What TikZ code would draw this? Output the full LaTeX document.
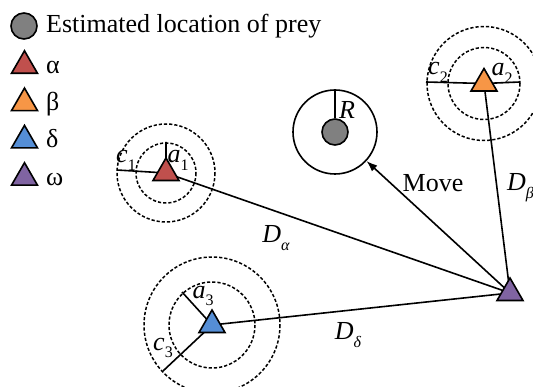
\documentclass[tikz,border=0pt]{standalone}
\usepackage{fontspec}
\setmainfont{Liberation Serif}
\usetikzlibrary{shapes.geometric,arrows.meta}
\definecolor{wolfred}{RGB}{192,80,77}
\definecolor{wolforange}{RGB}{247,150,70}
\definecolor{wolfblue}{RGB}{85,142,213}
\definecolor{wolfpurple}{RGB}{128,100,162}
\newcommand{\lbl}[2]{\textit{#1}\raisebox{-0.3em}{\fontsize{16}{16}\selectfont #2}}

\begin{document}
\begin{tikzpicture}[x=1pt,y=-1pt,font=\fontsize{26}{30}\selectfont,
  wolf/.style={regular polygon,regular polygon sides=3,draw,line width=1.6pt,minimum size=30pt,inner sep=0pt},
  preydot/.style={circle,draw,fill=gray,line width=1.6pt,minimum size=26pt,inner sep=0pt},
  ring/.style={draw,dash pattern=on 3.2pt off 2pt,line width=1.5pt},
  link/.style={line width=1.6pt},
  txt/.style={inner sep=0pt}]
  \useasboundingbox (0,0) rectangle (533,387);
  \clip (0,0) rectangle (533,387);
  \node[preydot] (legprey) at (24,26) {};
  \node[txt,anchor=base west] (legpreytxt) at (46,33) {Estimated location of prey};
  \foreach \g/\c [count=\i] in {α/wolfred,β/wolforange,δ/wolfblue,ω/wolfpurple} {
    \node[wolf,fill=\c] (leg\i) at (24.5,{36+37.3*\i-7.5}) {};
    \node[txt,anchor=base west] (legtxt\i) at (46,{36+37.3*\i}) {\g};
  }
  \coordinate (alpha) at (166,173);
  \coordinate (beta) at (484,83.5);
  \coordinate (delta) at (212,325);
  \coordinate (omega) at (510,293);
  \coordinate (a1) at (166,142);
  \coordinate (c1) at (117,170);
  \coordinate (a2) at (520,82);
  \coordinate (c2) at (426,82);
  \coordinate (a3) at (182,292);
  \coordinate (c3) at (163,371);
  \draw[ring] (alpha) circle (30) (alpha) circle (49);
  \draw[ring] (beta) circle (36) (beta) circle (57);
  \draw[ring] (delta) circle (43) (delta) circle (68);
  \node[preydot] (prey) at (335,132) {};
  \node[circle,draw,line width=1.6pt,minimum size=84pt] (preyzone) at (prey) {};
  \draw[link] (preyzone.north) -- (prey);
  \draw[link] (alpha) -- (omega) (beta) -- (omega) (delta) -- (omega);
  \draw[link] (alpha) -- (a1) (alpha) -- (c1) (beta) -- (a2) (beta) -- (c2) (delta) -- (a3) (delta) -- (c3);
  \draw[link,-{Latex[length=11pt,width=8pt]}] (omega) -- (preyzone);
  \node[wolf,fill=wolfred] (alphaw) at (alpha) {};
  \node[wolf,fill=wolforange] (betaw) at (beta) {};
  \node[wolf,fill=wolfblue] (deltaw) at (delta) {};
  \node[wolf,fill=wolfpurple] (omegaw) at (omega) {};
  \node[txt] (la1) at (178,160) {\lbl{a}{1}};
  \node[txt] (lc1) at (126,160) {\lbl{c}{1}};
  \node[txt] (la2) at (502,73) {\lbl{a}{2}};
  \node[txt] (lc2) at (438,72) {\lbl{c}{2}};
  \node[txt] (la3) at (203,296) {\lbl{a}{3}};
  \node[txt] (lc3) at (163,348) {\lbl{c}{3}};
  \node[txt] (lR) at (347,110) {\textit{R}};
  \node[txt] (lDa) at (276,238) {\lbl{D}{\textit{α}}};
  \node[txt] (lDd) at (348,335) {\lbl{D}{\textit{δ}}};
  \node[txt,anchor=west] (lDb) at (507,188) {\lbl{D}{\textit{β}}};
  \node[txt] (lmove) at (433,183) {Move};
\end{tikzpicture}
\end{document}
